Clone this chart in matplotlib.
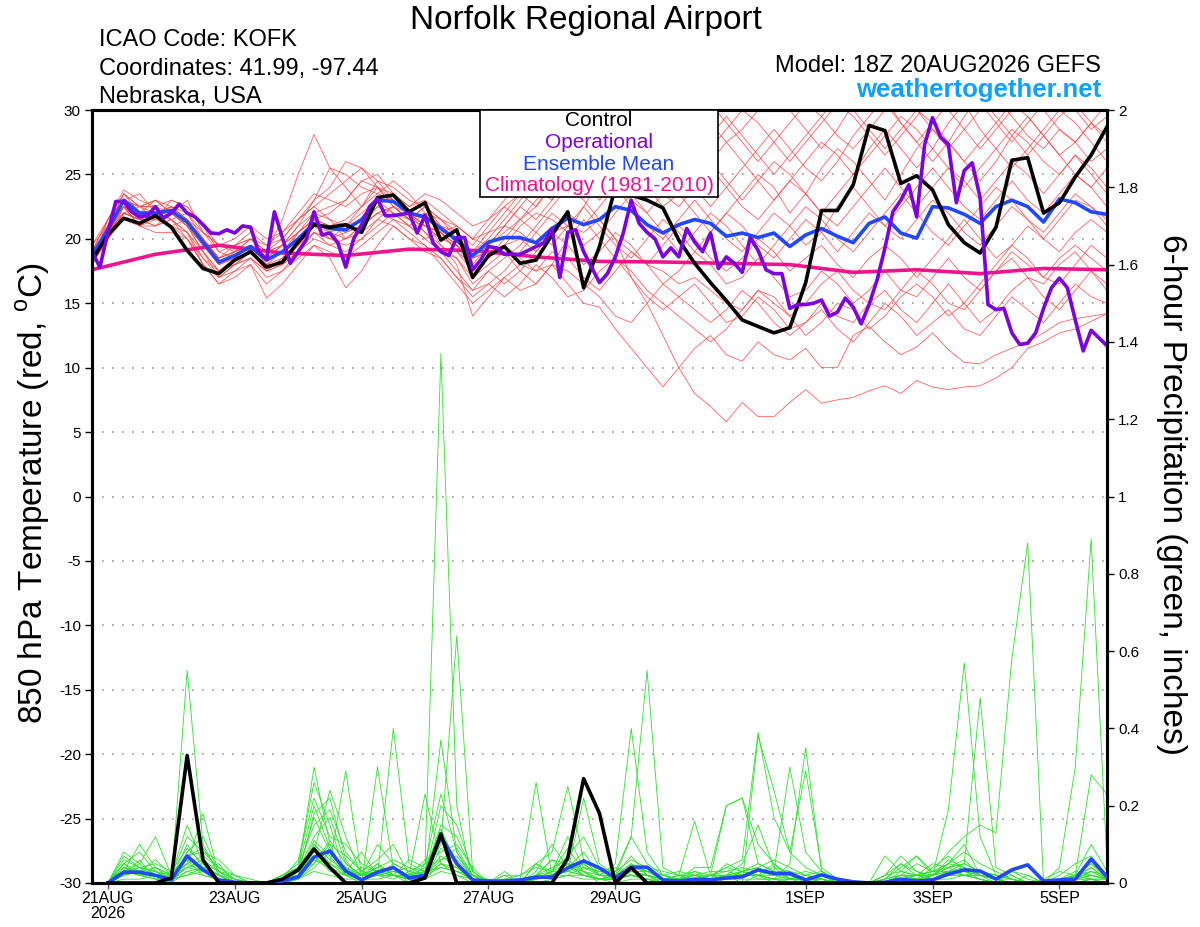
import numpy as np
import matplotlib
matplotlib.use("Agg")
import matplotlib.pyplot as plt
from matplotlib.patches import Rectangle

plt.rcParams['font.family'] = ['Liberation Sans', 'DejaVu Sans']
plt.rcParams['mathtext.fontset'] = 'custom'
plt.rcParams['mathtext.rm'] = 'Liberation Sans'

# ---------------- DATA ----------------
# time axis in days since 21AUG 00Z; temps every 6h from 20AUG 18Z
temp_start, temp_step = -0.25, 0.25
oper_step = 0.125
clim_step = 1.0
precip_start, precip_step = 0.0, 0.25

xtick_days = [0, 2, 4, 6, 8, 11, 13, 15]
xtick_labels = ["21AUG\n2026", "23AUG", "25AUG", "27AUG", "29AUG", "1SEP", "3SEP", "5SEP"]
temp_ticks = [-30, -25, -20, -15, -10, -5, 0, 5, 10, 15, 20, 25, 30]
precip_ticks = [0, 0.2, 0.4, 0.6, 0.8, 1, 1.2, 1.4, 1.6, 1.8, 2]
precip_tick_labels = ["0", "0.2", "0.4", "0.6", "0.8", "1", "1.2", "1.4", "1.6", "1.8", "2"]

control_temp = [18.35, 20.3, 21.6, 21.2, 21.8, 20.9, 19.1, 17.7, 17.3, 18.35, 19.0, 17.8, 18.2,
                19.75, 21.1, 20.9, 21.1, 20.5, 23.2, 23.4, 22.1, 22.8, 19.9, 20.7, 17.0, 18.7,
                19.4, 18.1, 18.35, 20.3, 22.1, 16.2, 19.4, 24.0, 23.4, 23.0, 22.4, 19.9, 18.1,
                16.6, 15.2, 13.7, 13.2, 12.7, 13.1, 16.6, 22.2, 22.2, 24.2, 28.8, 28.4, 24.3,
                24.9, 23.8, 21.1, 19.7, 18.9, 20.9, 26.1, 26.3, 22.0, 22.8, 24.8, 26.5, 28.7]

ensmean_temp = [18.7, 20.7, 23.0, 22.0, 22.0, 22.2, 21.3, 19.75, 18.2, 18.7, 19.4, 18.35, 19.0,
                20.0, 21.2, 20.8, 20.7, 21.5, 23.0, 22.9, 22.0, 21.7, 20.8, 19.9, 18.7, 19.75,
                20.1, 20.1, 19.7, 20.8, 21.6, 21.1, 21.5, 22.5, 22.2, 21.1, 20.45, 21.1, 21.5,
                21.2, 20.2, 20.45, 20.1, 20.45, 19.4, 20.3, 20.8, 20.2, 19.7, 21.2, 21.7, 20.45,
                20.05, 22.5, 22.4, 21.9, 21.2, 22.5, 23.0, 22.5, 21.3, 23.1, 22.8, 22.1, 21.9]

oper_temp = [19.0, 17.8, 20.5, 22.9, 22.9, 22.1, 21.7, 21.8, 22.5, 21.6, 22.0, 22.7, 22.0, 21.7, 21.1, 20.45,
             20.4, 20.7, 20.45, 21.0, 20.9, 19.0, 18.4, 22.1, 20.1, 18.1, 19.0, 19.9, 22.1, 20.3, 20.45, 19.7,
             17.8, 20.0, 21.1, 22.5, 23.1, 21.8, 21.8, 21.9, 22.0, 20.45, 21.8, 19.7, 19.0, 18.7, 20.1, 20.1,
             17.6, 18.35, 19.4, 19.3, 18.8, 18.8, 18.8, 19.1, 19.4, 19.7, 20.8, 17.0, 20.5, 20.7, 19.0, 17.8,
             16.6, 17.3, 18.6, 20.45, 23.0, 21.2, 20.5, 20.0, 18.6, 19.3, 18.6, 20.8, 19.75, 19.0, 20.45, 17.7,
             18.6, 18.1, 17.4, 20.1, 19.1, 17.6, 17.3, 17.3, 14.6, 14.9, 14.9, 15.0, 15.25, 14.0, 14.3, 15.4,
             14.7, 13.4, 14.9, 16.8, 19.3, 22.1, 23.0, 24.2, 21.7, 27.3, 29.4, 27.9, 27.3, 22.8, 25.3, 25.9,
             23.2, 14.9, 14.5, 14.6, 12.7, 11.8, 11.9, 12.7, 14.6, 16.2, 16.95, 16.2, 13.7, 11.3, 12.9, 12.3,
             11.7]

clim_temp = [17.6, 18.8, 19.5, 18.9, 18.7, 19.2, 19.1, 18.6, 18.25, 18.2, 18.1, 18.0,
             17.4, 17.6, 17.3, 17.7, 17.6]

member_temps = [
    [18.5, 21.0, 23.5, 22.5, 22.0, 22.5, 21.5, 19.5, 18.0, 18.5, 19.5, 19.0, 21.5,
     25.0, 28.1, 25.5, 24.0, 22.5, 24.0, 23.0, 22.0, 21.0, 20.5, 19.0, 18.0, 19.5,
     21.0, 22.5, 24.0, 23.0, 25.0, 26.5, 28.0, 27.0, 25.5, 24.0, 22.5, 23.5, 22.0,
     20.5, 22.0, 23.5, 25.0, 24.0, 22.0, 23.5, 25.5, 27.0, 26.0, 24.5, 23.0, 25.0,
     27.0, 28.5, 27.5, 26.0, 24.5, 26.0, 28.0, 29.5, 28.0, 26.5, 25.0, 24.0, 25.5],
    [18.0, 20.0, 22.5, 21.5, 22.0, 21.0, 20.0, 18.0, 16.5, 17.5, 18.5, 17.5, 18.0,
     19.5, 21.0, 20.0, 21.0, 21.5, 22.5, 23.5, 22.0, 21.5, 19.5, 18.0, 14.0, 15.5,
     17.0, 18.0, 17.5, 19.0, 18.5, 17.0, 16.0, 17.5, 19.0, 18.0, 16.5, 17.5, 19.0,
     18.0, 16.5, 17.0, 18.5, 17.0, 15.5, 16.0, 17.5, 16.5, 15.0, 16.0, 17.5, 16.0,
     15.5, 17.0, 18.5, 17.0, 16.0, 17.5, 19.0, 18.0, 17.0, 18.5, 19.5, 18.5, 17.5],
    [19.0, 21.0, 22.5, 21.0, 21.5, 22.0, 21.0, 19.5, 18.0, 19.0, 19.5, 18.5, 19.0,
     20.0, 21.5, 21.0, 20.5, 21.0, 22.5, 22.0, 21.0, 22.0, 21.0, 20.5, 18.5, 19.0,
     19.5, 18.5, 17.5, 18.0, 16.5, 15.0, 14.7, 13.0, 11.5, 10.0, 8.5, 10.0, 11.5,
     12.5, 11.0, 10.5, 12.0, 11.0, 10.6, 11.5, 10.0, 10.0, 12.5, 13.2, 12.0, 11.0,
     11.6, 12.7, 11.4, 10.4, 10.3, 11.0, 11.5, 12.0, 12.7, 13.5, 13.8, 14.0, 14.2],
    [18.5, 20.5, 22.0, 21.5, 21.0, 21.5, 20.5, 19.0, 17.5, 18.0, 19.0, 18.0, 18.5,
     19.5, 20.5, 20.0, 20.5, 21.0, 22.0, 22.5, 21.5, 21.0, 20.5, 19.5, 18.5, 19.0,
     19.5, 20.0, 19.0, 20.5, 21.0, 20.5, 21.5, 20.0, 17.0, 15.0, 12.5, 10.0, 8.0,
     7.0, 5.8, 7.3, 6.2, 6.2, 7.3, 8.3, 7.25, 7.5, 7.7, 8.2, 8.6, 8.0,
     9.0, 8.5, 8.3, 8.5, 8.6, 9.2, 10.0, 11.5, 12.0, 12.7, 13.0, 13.6, 14.2],
    [18.0, 21.5, 23.8, 23.0, 22.5, 23.0, 22.5, 21.0, 19.5, 19.5, 20.5, 19.5, 20.0,
     21.5, 22.5, 21.5, 21.0, 22.5, 24.5, 24.0, 23.0, 22.5, 21.5, 20.0, 19.0, 20.5,
     22.0, 23.5, 25.0, 26.5, 28.5, 30.5, 31.0, 29.5, 28.0, 27.0, 28.5, 29.5, 27.5,
     26.0, 24.5, 23.0, 24.5, 26.0, 25.0, 23.5, 22.0, 23.5, 25.0, 27.0, 28.5, 27.0,
     25.5, 27.0, 29.0, 30.5, 28.5, 27.0, 25.5, 27.0, 28.5, 30.0, 29.0, 27.5, 26.0],
    [19.0, 20.5, 22.5, 22.0, 23.0, 22.0, 21.0, 19.0, 17.5, 18.0, 19.0, 17.5, 18.5,
     20.5, 22.0, 21.5, 20.0, 21.0, 22.0, 21.5, 21.0, 20.0, 19.0, 17.5, 16.0, 17.5,
     18.5, 19.5, 21.0, 22.5, 24.0, 23.0, 21.5, 20.0, 19.0, 18.0, 17.5, 16.5, 17.0,
     16.0, 15.0, 14.5, 16.0, 15.5, 14.0, 15.0, 16.5, 17.5, 16.0, 15.0, 14.5, 16.0,
     17.5, 16.5, 15.0, 14.5, 16.0, 17.5, 18.5, 17.0, 16.5, 18.0, 19.0, 17.5, 16.5],
    [18.5, 21.0, 23.0, 22.5, 21.5, 22.5, 22.0, 20.0, 18.5, 19.5, 20.0, 19.0, 19.5,
     21.0, 23.0, 25.5, 25.0, 24.0, 23.5, 24.5, 23.5, 22.0, 21.5, 20.5, 19.5, 21.0,
     22.5, 21.5, 22.5, 24.5, 26.0, 27.5, 29.5, 31.0, 30.0, 28.5, 27.0, 25.5, 24.0,
     22.5, 24.0, 25.5, 27.0, 28.5, 27.0, 25.5, 24.5, 26.0, 28.0, 29.5, 31.0, 29.0,
     27.5, 26.0, 27.5, 29.5, 31.0, 29.5, 28.0, 26.5, 28.0, 29.5, 30.5, 29.0, 27.5],
    [19.5, 21.5, 22.5, 21.0, 21.0, 21.5, 20.5, 18.5, 17.0, 18.0, 18.5, 17.0, 17.5,
     18.5, 19.5, 18.5, 16.2, 17.5, 19.5, 21.0, 20.0, 19.5, 18.5, 17.0, 15.5, 16.5,
     15.5, 16.5, 18.0, 17.0, 15.5, 16.0, 17.5, 18.5, 17.0, 15.5, 14.5, 15.5, 16.5,
     15.0, 13.5, 14.0, 15.5, 14.5, 13.0, 13.5, 15.0, 14.0, 13.5, 15.0, 16.0, 14.5,
     13.5, 15.0, 16.5, 15.0, 13.5, 14.5, 16.0, 17.0, 15.5, 14.5, 16.0, 17.5, 16.0],
    [18.0, 20.0, 23.0, 22.5, 22.5, 21.5, 22.0, 20.5, 19.0, 18.5, 19.0, 18.5, 19.5,
     21.0, 22.0, 22.5, 23.0, 24.5, 25.0, 23.5, 22.5, 23.0, 22.0, 21.0, 20.0, 21.5,
     23.0, 24.5, 26.0, 27.5, 30.0, 32.0, 31.5, 30.0, 29.0, 30.5, 31.5, 30.0, 28.5,
     27.0, 28.5, 30.0, 29.0, 27.5, 26.0, 27.5, 29.0, 30.5, 29.5, 28.0, 26.5, 28.0,
     29.5, 31.0, 30.0, 28.5, 27.0, 28.5, 30.0, 31.5, 30.0, 28.5, 27.5, 29.0, 30.5],
    [18.5, 20.0, 21.5, 21.0, 20.5, 20.5, 20.0, 18.5, 17.5, 18.5, 19.5, 18.0, 18.0,
     19.0, 20.5, 20.0, 19.5, 20.0, 21.0, 22.0, 21.5, 22.5, 21.5, 21.0, 20.0, 20.5,
     21.0, 20.5, 19.5, 20.5, 22.0, 21.0, 22.5, 24.0, 22.5, 21.0, 20.0, 21.5, 23.0,
     21.5, 20.0, 19.0, 20.5, 22.0, 21.0, 19.5, 20.5, 22.5, 24.0, 22.5, 21.0, 22.5,
     24.0, 25.5, 24.0, 22.5, 21.5, 23.0, 24.5, 23.0, 22.0, 23.5, 25.0, 24.0, 22.5],
    [19.0, 21.5, 23.0, 22.5, 23.0, 22.5, 21.5, 20.0, 18.5, 19.0, 20.0, 18.5, 19.0,
     20.5, 21.5, 21.0, 21.5, 22.5, 23.5, 23.0, 22.0, 21.0, 20.0, 19.5, 17.5, 18.5,
     19.5, 21.0, 22.0, 21.5, 20.5, 22.5, 24.5, 26.0, 27.5, 28.5, 27.0, 25.5, 24.5,
     26.0, 27.5, 26.0, 24.5, 23.0, 24.5, 26.0, 27.5, 26.5, 25.0, 26.5, 28.0, 29.5,
     28.5, 27.0, 25.5, 24.0, 25.5, 27.0, 28.5, 27.5, 26.0, 25.0, 26.5, 25.0, 23.5],
    [18.0, 20.5, 22.0, 21.5, 21.0, 22.0, 21.0, 19.0, 17.0, 17.5, 18.0, 16.5, 17.5,
     19.0, 20.0, 19.5, 20.0, 20.5, 21.5, 22.5, 22.0, 20.5, 19.0, 18.5, 16.5, 17.5,
     16.5, 17.5, 19.0, 20.5, 19.5, 18.0, 19.0, 20.5, 19.5, 18.0, 19.5, 21.0, 20.0,
     18.5, 17.5, 18.5, 20.0, 19.0, 17.5, 18.5, 19.5, 18.0, 17.0, 18.5, 19.5, 18.5,
     17.0, 18.5, 20.0, 21.5, 20.0, 18.5, 19.5, 21.0, 20.0, 19.0, 20.5, 21.5, 20.5],
    [19.0, 20.5, 22.5, 22.0, 21.5, 23.0, 22.5, 21.0, 19.0, 19.5, 20.0, 19.5, 20.5,
     22.0, 23.5, 23.0, 22.5, 23.5, 24.0, 23.5, 22.5, 23.5, 23.0, 22.0, 21.0, 21.5,
     22.5, 23.5, 22.5, 24.0, 25.5, 24.5, 23.0, 24.5, 26.0, 25.0, 23.5, 22.5, 24.0,
     25.5, 24.0, 22.5, 21.5, 23.0, 24.5, 23.5, 22.0, 21.0, 22.5, 24.0, 25.5, 24.0,
     22.5, 24.0, 25.5, 24.5, 23.0, 24.5, 26.0, 25.0, 23.5, 25.0, 26.5, 25.5, 24.0],
    [18.5, 21.0, 22.5, 21.0, 22.0, 21.0, 20.5, 18.0, 16.5, 17.0, 18.0, 15.4, 16.5,
     18.0, 19.5, 19.0, 18.5, 19.5, 20.5, 21.5, 20.5, 19.5, 18.0, 16.5, 15.0, 16.0,
     17.0, 16.0, 16.5, 18.0, 17.5, 16.5, 15.5, 14.0, 13.5, 15.0, 16.5, 15.5, 14.5,
     13.5, 14.5, 16.0, 15.0, 13.5, 12.5, 13.5, 14.5, 13.0, 12.0, 13.5, 15.0, 14.0,
     12.5, 13.5, 14.5, 13.0, 12.5, 14.0, 15.5, 14.5, 13.5, 15.0, 16.5, 15.5, 15.0],
    [18.5, 20.5, 23.0, 23.5, 22.0, 22.0, 23.0, 20.5, 19.5, 20.0, 21.0, 20.0, 20.5,
     21.5, 23.0, 24.0, 26.0, 25.5, 24.0, 22.5, 21.5, 22.5, 21.0, 20.0, 19.0, 20.0,
     21.5, 23.0, 24.5, 26.0, 27.5, 29.0, 30.5, 32.0, 31.0, 29.5, 30.5, 32.0, 30.5,
     29.0, 27.5, 28.5, 30.0, 31.5, 30.0, 28.5, 27.0, 28.5, 30.5, 32.0, 30.5, 29.0,
     27.5, 29.0, 30.5, 32.0, 30.5, 29.0, 27.5, 29.0, 30.5, 31.5, 30.0, 28.5, 29.5],
    [19.0, 20.0, 22.0, 21.5, 21.5, 21.0, 21.5, 19.5, 18.0, 18.5, 19.0, 18.0, 19.0,
     20.0, 21.0, 20.5, 21.0, 22.0, 23.0, 22.0, 21.0, 20.0, 20.5, 21.0, 20.0, 19.5,
     20.5, 21.5, 20.5, 19.5, 21.0, 22.5, 21.0, 19.5, 18.5, 20.0, 21.5, 20.5, 19.0,
     20.5, 22.0, 21.0, 19.5, 18.5, 20.0, 21.5, 20.5, 19.0, 20.5, 22.0, 21.0, 20.0,
     21.5, 23.0, 22.0, 20.5, 19.5, 21.0, 22.5, 21.5, 20.0, 21.5, 23.0, 22.5, 21.0],
    [18.0, 21.0, 23.5, 22.5, 22.5, 22.0, 21.0, 19.5, 18.5, 19.0, 20.0, 19.0, 19.5,
     20.5, 21.5, 22.0, 23.0, 24.5, 24.0, 22.5, 21.5, 22.0, 20.5, 19.0, 17.5, 18.5,
     20.0, 21.5, 23.0, 24.0, 25.5, 27.0, 26.0, 24.5, 23.0, 22.0, 23.5, 25.0, 26.5,
     28.0, 29.5, 28.0, 26.5, 25.0, 26.5, 28.0, 29.5, 31.0, 30.0, 28.5, 27.0, 28.5,
     30.0, 29.0, 27.5, 26.0, 27.5, 29.0, 30.5, 29.5, 28.0, 26.5, 27.5, 29.0, 28.0],
    [19.5, 21.0, 22.0, 21.5, 22.0, 21.5, 20.0, 18.0, 17.0, 18.0, 18.5, 17.5, 18.0,
     19.0, 20.5, 19.5, 19.0, 20.0, 21.5, 21.0, 20.0, 19.0, 18.5, 17.0, 16.0, 16.5,
     17.5, 19.0, 20.5, 22.0, 21.0, 19.5, 20.5, 22.0, 23.5, 22.0, 20.5, 19.0, 20.5,
     22.0, 21.0, 19.5, 18.0, 19.5, 21.0, 22.5, 21.5, 20.0, 19.0, 20.5, 22.0, 23.5,
     22.0, 20.5, 19.5, 21.0, 22.5, 24.0, 23.0, 21.5, 20.5, 22.0, 23.5, 22.5, 21.5],
    [18.5, 20.0, 22.0, 22.5, 23.0, 22.0, 21.5, 20.5, 19.5, 19.0, 19.5, 19.0, 20.0,
     21.5, 22.5, 23.5, 24.5, 25.5, 24.5, 23.0, 22.0, 21.0, 20.5, 19.5, 18.5, 19.5,
     21.0, 22.5, 21.5, 23.0, 24.5, 26.0, 27.0, 28.0, 29.5, 31.0, 29.5, 28.5, 29.5,
     30.5, 29.0, 27.5, 26.0, 27.5, 29.0, 30.5, 29.5, 28.0, 27.0, 28.5, 30.0, 31.5,
     30.0, 28.5, 27.0, 28.5, 30.0, 31.0, 29.5, 28.0, 27.0, 28.5, 27.5, 26.0, 27.0],
    [19.0, 21.5, 23.5, 22.0, 22.0, 22.5, 21.5, 20.0, 18.5, 19.0, 19.5, 18.5, 19.5,
     20.5, 21.5, 20.5, 20.0, 21.0, 22.0, 22.5, 21.5, 20.5, 19.5, 18.5, 17.0, 18.0,
     19.0, 17.5, 16.5, 18.0, 20.0, 21.5, 20.0, 18.5, 17.5, 16.0, 15.0, 14.0, 13.0,
     12.0, 13.0, 14.5, 16.0, 15.0, 14.0, 12.5, 13.5, 15.0, 14.5, 13.0, 14.0, 15.5,
     16.5, 15.5, 14.0, 15.0, 16.5, 18.0, 19.5, 18.5, 17.0, 16.5, 18.0, 19.5, 18.5],
]

control_precip = [0, 0, 0, 0, 0.013, 0.33, 0.06, 0, 0, 0, 0, 0.01, 0.034, 0.088, 0.04, 0,
                  0, 0, 0, 0, 0.013, 0.127, 0, 0, 0, 0, 0, 0, 0, 0.064, 0.27, 0.18,
                  0, 0.04, 0, 0, 0, 0, 0, 0, 0, 0, 0, 0, 0, 0, 0, 0,
                  0, 0, 0, 0, 0, 0, 0, 0, 0, 0, 0, 0, 0, 0, 0, 0]

ensmean_precip = [0, 0.028, 0.028, 0.02, 0.008, 0.07, 0.034, 0.008, 0.002, 0, 0, 0.005, 0.016, 0.067, 0.083, 0.031,
                  0.008, 0.028, 0.04, 0.013, 0.02, 0.12, 0.05, 0.008, 0.005, 0.005, 0.008, 0.015, 0.015, 0.039, 0.057, 0.039,
                  0.013, 0.041, 0.041, 0.008, 0.005, 0.01, 0.008, 0.013, 0.016, 0.034, 0.025, 0.025, 0.008, 0.021, 0.01, 0.003,
                  0, 0.002, 0.01, 0.005, 0.008, 0.023, 0.034, 0.031, 0.01, 0.034, 0.047, 0.005, 0.008, 0.01, 0.062, 0.016]

member_precips = [
    [0, .05, .03, .02, 0, .55, .10, .02, 0, 0, 0, 0, .03, .30, .10, .02,
     0, .05, .02, 0, .05, 1.37, .20, 0, 0, .02, 0, .05, .02, .04, .03, 0,
     0, .05, .02, 0, 0, .01, 0, .02, 0, .02, .05, .01, 0, .02, 0, 0,
     0, 0, .01, 0, .02, .05, .10, .02, 0, .03, .01, 0, 0, .02, .10, .03],
    [0, .08, .05, .12, .02, .15, .05, 0, 0, 0, 0, .02, .05, .26, .15, .02,
     .02, .02, .40, .05, .03, .10, .64, .03, 0, 0, .01, .26, .02, .05, .02, .01,
     .02, .03, .02, 0, 0, 0, .01, .05, .03, .02, 0, .01, .02, .01, 0, 0,
     0, .01, .05, .02, .01, .02, .02, .01, 0, 0, 0, 0, .01, .02, .05, .02],
    [0, .03, .10, .04, .01, .08, .12, .03, 0, 0, 0, 0, .02, .18, .22, .06,
     0, .30, .04, 0, .03, .15, .12, .03, 0, 0, 0, .05, .08, .25, .06, .02,
     .05, .40, .08, .02, .01, .03, .02, .20, .22, .10, .05, .02, 0, .01, 0, 0,
     0, 0, .03, .07, .02, .19, .57, .12, .02, .01, 0, 0, 0, .01, .04, .01],
    [0, .06, .04, .02, .02, .12, .08, .06, .02, 0, 0, .01, .02, .10, .05, .29,
     .02, .05, .02, .02, .23, .05, .02, 0, 0, .03, 0, .02, .06, .03, .22, .05,
     .02, .12, .55, .04, .02, .16, .02, 0, 0, .38, .24, .08, .04, .02, .01, 0,
     0, .02, .07, .03, .01, .03, .05, .48, .04, .02, 0, 0, 0, .01, .03, .02],
    [0, .02, .06, .01, 0, .05, .18, .02, 0, 0, 0, .02, .04, .20, .09, .03,
     .08, .02, .03, .04, .02, .37, .08, .01, 0, .01, 0, .03, .10, .04, .08, .02,
     .01, .04, .03, .02, .01, .04, .04, .20, .22, .05, .03, .30, .08, .03, 0, 0,
     0, 0, .02, .05, .03, .08, .12, .15, .13, .58, .88, 0, 0, .02, .03, .01],
    [0, .04, .02, .03, .01, .10, .04, .05, 0, 0, 0, 0, .04, .15, .19, .08,
     .03, .06, .10, .02, .06, .08, .10, .04, 0, .02, .02, .04, .03, .12, .04, .03,
     .03, .06, .04, .03, .02, .02, .02, .04, .06, .39, .17, .08, .29, .04, .01, 0,
     0, 0, .01, 0, .02, .06, .04, .02, .01, .03, .02, 0, .04, .30, .89, .05],
    [0, .05, .08, .03, .02, .04, .06, .03, .02, .01, 0, .01, .06, .22, .12, .10,
     .05, .03, .02, .06, .04, .12, .05, .02, .01, 0, .01, .02, .04, .06, .03, .01,
     .02, .02, .01, 0, 0, .01, .02, .04, .03, .02, .01, .05, .35, .03, .01, 0,
     0, .01, .02, .01, .04, .07, .03, .02, .01, 0, 0, .01, .03, .02, .28, .23],
    [0, .03, .04, .05, .03, .09, .05, .02, 0, 0, 0, 0, .03, .12, .17, .05,
     .02, .10, .05, .03, .02, .20, .15, .03, 0, .01, .02, .05, .03, .03, .05, .02,
     .02, .03, .02, .01, .02, .03, .01, .02, .05, .15, .04, .03, .02, .01, 0, 0,
     0, .02, .05, .03, .02, .05, .08, .05, .03, .01, 0, 0, .02, .05, .07, .02],
    [0, .02, .03, .02, .01, .07, .08, .04, .01, 0, 0, .02, .03, .17, .08, .04,
     .01, .02, .03, .02, .04, .06, .09, .02, 0, 0, 0, .01, .03, .07, .12, .04,
     .03, .12, .05, .02, .03, .02, .01, .01, .03, .04, .06, .04, .02, .03, .01, 0,
     0, .01, .04, .07, .03, .04, .05, .03, .01, 0, .02, 0, 0, .02, .05, .01],
    [0, .04, .02, .01, .02, .06, .04, .02, .01, 0, 0, 0, .02, .08, .24, .12,
     .02, .04, .06, .04, .03, .14, .05, .02, 0, .01, 0, .02, .06, .05, .04, .03,
     .02, .05, .03, .01, .01, .02, .03, .03, .04, .03, .02, .02, .03, .02, 0, 0,
     0, 0, .02, .02, .05, .04, .06, .02, .01, .02, 0, 0, .01, .03, .02, .01],
    [0, .03, .05, .02, .01, .04, .03, .02, 0, 0, 0, .01, .02, .10, .06, .03,
     .02, .03, .02, .01, .02, .04, .03, .01, 0, 0, 0, .02, .03, .09, .03, .01,
     .01, .03, .02, 0, .01, .01, .02, .02, .03, .05, .03, .02, .01, .01, 0, 0,
     0, .07, .03, .02, .01, .03, .04, .02, .01, 0, 0, 0, 0, .01, .02, .01],
    [0, .02, .03, .04, .02, .07, .09, .03, .01, 0, 0, 0, .01, .05, .10, .07,
     .03, .02, .05, .03, .05, .23, .08, .02, 0, 0, .01, .01, .02, .04, .02, .01,
     .02, .04, .03, .01, .02, .01, .01, .02, .02, .02, .03, .01, .02, .01, 0, 0,
     0, 0, .01, .02, .03, .05, .04, .03, .02, .01, 0, 0, .01, .02, .04, .01],
    [0, .03, .02, .02, .01, .03, .04, .02, 0, 0, 0, 0, .02, .06, .04, .02,
     .01, .02, .02, .01, .02, .05, .04, .01, 0, 0, 0, .01, .02, .03, .02, .01,
     .01, .02, .01, 0, 0, .01, .01, .01, .02, .02, .01, .01, .01, .01, 0, 0,
     0, 0, .01, .01, .02, .03, .02, .02, .01, .01, 0, 0, 0, .01, .02, .01],
    [0, .07, .04, .03, .01, .02, .03, .02, 0, 0, 0, .02, .04, .07, .03, .02,
     .04, .03, .04, .02, .03, .04, .03, .02, 0, 0, 0, .02, .01, .02, .04, .02,
     .04, .02, .01, .01, 0, .01, .02, .01, .03, .01, .01, .02, .01, .01, 0, 0,
     0, 0, .02, .01, .01, .02, .03, .01, 0, 0, 0, 0, 0, 0, .01, 0],
    [0, .02, .03, .06, .02, .05, .07, .04, .02, 0, 0, 0, .01, .04, .08, .04,
     .02, .03, .02, .02, .01, .09, .06, .02, 0, 0, 0, .01, .02, .03, .05, .02,
     .02, .07, .02, .01, .01, .02, .01, .01, .02, .03, .02, .01, .01, .02, 0, 0,
     0, .02, .03, .02, .02, .04, .02, .03, .02, .01, 0, 0, 0, .02, .01, .01],
    [0, .04, .03, .02, .03, .06, .02, .01, 0, 0, 0, .01, .02, .09, .05, .03,
     .02, .04, .03, .02, .02, .07, .04, .02, 0, 0, 0, .02, .02, .05, .02, .01,
     .01, .02, .02, .01, .01, .01, .02, .03, .02, .02, .02, .02, .01, .01, 0, 0,
     0, 0, .01, .01, .02, .03, .03, .02, .01, 0, 0, 0, 0, .01, .01, .01],
    [0, .01, .01, .02, 0, .03, .02, .01, 0, 0, 0, 0, .01, .03, .02, .01,
     .01, .01, .02, .01, .01, .03, .02, .01, 0, 0, 0, 0, .01, .02, .01, .01,
     0, .01, .01, 0, 0, 0, .01, .01, .01, .01, .01, 0, 0, .01, 0, 0,
     0, 0, 0, .01, .01, .01, .02, .01, 0, 0, 0, 0, 0, 0, .01, 0],
    [0, .05, .02, .01, .01, .04, .05, .03, .01, 0, 0, 0, .02, .11, .07, .02,
     .03, .02, .01, .03, .02, .06, .07, .02, 0, 0, 0, .01, .03, .05, .03, .02,
     .02, .03, .03, .02, .01, .02, .01, .02, .03, .04, .02, .02, .01, .01, 0, 0,
     0, .01, .02, .02, .03, .03, .02, .02, .01, 0, 0, 0, 0, .02, .02, .01],
    [0, .02, .04, .03, .01, .02, .04, .02, 0, 0, 0, 0, .03, .05, .11, .05,
     .02, .02, .03, .02, .03, .11, .05, .01, 0, 0, 0, .01, .02, .03, .02, .01,
     .01, .02, .02, .01, .01, .01, .02, .02, .02, .03, .04, .01, .01, .01, 0, 0,
     0, 0, .01, .02, .02, .04, .05, .03, .02, .01, 0, 0, 0, .01, .03, .01],
    [0, .03, .02, .04, .02, .05, .03, .02, 0, 0, 0, 0, .01, .06, .05, .02,
     .01, .02, .02, .01, .01, .05, .03, .01, 0, 0, 0, .01, .02, .02, .02, .01,
     .01, .02, .01, 0, .01, .01, .01, .01, .02, .02, .01, .01, .01, .01, 0, 0,
     0, 0, .01, .01, .01, .02, .02, .01, 0, 0, 0, 0, 0, .01, .01, 0],
]

# ---------------- FIGURE ----------------
W, H = 1200, 927
fig = plt.figure(figsize=(W / 100, H / 100), dpi=100)
L, R, T, B = 92, 1107, 110, 883
ax = fig.add_axes([L / W, 1 - B / H, (R - L) / W, (B - T) / H])
ax2 = ax.twinx()

t_temp = temp_start + temp_step * np.arange(len(control_temp))
t_oper = temp_start + oper_step * np.arange(len(oper_temp))
t_clim = temp_start + clim_step * np.arange(len(clim_temp))
t_prec = precip_start + precip_step * np.arange(len(control_precip))

red = '#ff4646'
green = '#2ee02e'
purple = '#7b00e0'
blue = '#2147ff'
pink = '#f0148c'

for m in member_temps:
    ax.plot(t_temp, m, color=red, lw=0.6, alpha=0.85, zorder=2)
for m in member_precips:
    ax2.plot(t_prec, m, color=green, lw=0.6, zorder=2)

ax.plot(t_clim, clim_temp, color=pink, lw=2.6, zorder=4, solid_joinstyle='round')
ax.plot(t_temp, ensmean_temp, color=blue, lw=2.6, zorder=5)
ax.plot(t_temp, control_temp, color='black', lw=2.6, zorder=6)
ax.plot(t_oper, oper_temp, color=purple, lw=2.6, zorder=7)

ax2.plot(t_prec, ensmean_precip, color=blue, lw=2.6, zorder=5)
ax2.plot(t_prec, control_precip, color='black', lw=2.6, zorder=6)

ax.set_xlim(temp_start, temp_start + temp_step * (len(control_temp) - 1))
ax.set_ylim(-30, 30)
ax2.set_ylim(0, 2)

ax.set_yticks(temp_ticks)
ax.set_yticklabels([str(v) for v in temp_ticks], fontsize=11)
ax2.set_yticks(precip_ticks)
ax2.set_yticklabels(precip_tick_labels, fontsize=11)
ax.set_xticks(xtick_days)
ax.set_xticklabels(xtick_labels, fontsize=11.5, linespacing=1.0)

ax.tick_params(axis='y', direction='out', length=5, width=1, pad=3)
ax2.tick_params(axis='y', direction='out', length=5, width=1, pad=3)
ax.tick_params(axis='x', direction='out', length=4, width=1, color='#555555', pad=2)

ax.yaxis.grid(True, linestyle=(0, (1, 5)), color='#999999', lw=1.2)
ax.set_axisbelow(True)

for a in (ax, ax2):
    for s in a.spines.values():
        s.set_linewidth(2.2)
        s.set_color('black')
ax2.patch.set_visible(False)

# axis labels
fig.text(33 / W, 1 - 493 / H, r"850 hPa Temperature (red, $^{\mathrm{o}}$C)", rotation=90,
         ha='center', va='center', fontsize=24)
fig.text(1171 / W, 1 - 495 / H, "6-hour Precipitation (green, inches)", rotation=270,
         ha='center', va='center', fontsize=24)

# headers
fig.text(586 / W, 1 - 29 / H, "Norfolk Regional Airport", ha='center', va='baseline', fontsize=24)
fig.text(99 / W, 1 - 46.5 / H, "ICAO Code: KOFK", ha='left', va='baseline', fontsize=17)
fig.text(99 / W, 1 - 75 / H, "Coordinates: 41.99, -97.44", ha='left', va='baseline', fontsize=17)
fig.text(99 / W, 1 - 103 / H, "Nebraska, USA", ha='left', va='baseline', fontsize=17)
fig.text(1101 / W, 1 - 72 / H, "Model: 18Z 20AUG2026 GEFS", ha='right', va='baseline', fontsize=17)
fig.text(1101 / W, 1 - 97 / H, "weathertogether.net", ha='right', va='baseline', fontsize=18.5,
         fontweight='bold', color='#0ea0ff')

# legend box
bx0, bx1, by0, by1 = 480, 718, 110, 197
fig.patches.append(Rectangle((bx0 / W, 1 - by1 / H), (bx1 - bx0) / W, (by1 - by0) / H,
                             transform=fig.transFigure, facecolor='white', edgecolor='black',
                             lw=1.2, zorder=10))
legend_items = [("Control", 'black', 121), ("Operational", purple, 142.5),
                ("Ensemble Mean", blue, 164), ("Climatology (1981-2010)", pink, 185.5)]
for txt, col, yy in legend_items:
    fig.text(599 / W, 1 - yy / H, txt, color=col, ha='center', va='center', fontsize=15, zorder=11)

fig.savefig("out.png", dpi=100)
